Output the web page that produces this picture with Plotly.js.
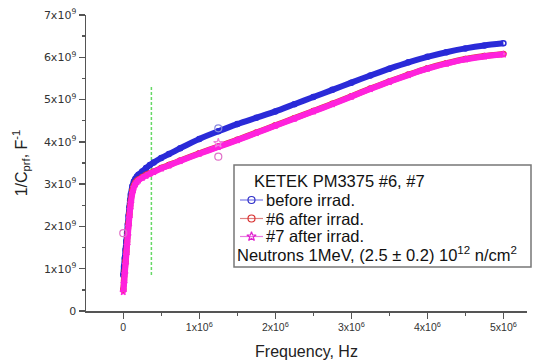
<!DOCTYPE html>
<html>
<head>
<meta charset="utf-8">
<script src="https://cdn.plot.ly/plotly-3.0.1.min.js"></script>
<style>html,body{margin:0;padding:0;background:#fff;}#chart{width:533px;height:361px;}</style>
</head>
<body>
<div id="chart"></div>
<script>
// Frequency (Hz) and 1/C (F^-1)
const freqBefore = [0, 1e4, 2e4, 3e4, 4e4, 5e4, 6e4, 7e4, 8e4, 9e4, 1e5, 1.2e5, 1.4e5, 1.6e5, 1.8e5, 2e5, 2.5e5, 3e5, 3.5e5, 4e5, 5e5, 6e5, 7.5e5, 1e6, 1.25e6, 1.5e6, 1.75e6, 2e6, 2.25e6, 2.5e6, 2.75e6, 3e6, 3.25e6, 3.5e6, 3.75e6, 4e6, 4.25e6, 4.5e6, 4.75e6, 5e6];
const invCBefore = [0.85e9, 1.05e9, 1.25e9, 1.45e9, 1.65e9, 1.85e9, 2.05e9, 2.25e9, 2.45e9, 2.62e9, 2.76e9, 2.95e9, 3.06e9, 3.13e9, 3.18e9, 3.22e9, 3.30e9, 3.38e9, 3.45e9, 3.51e9, 3.62e9, 3.71e9, 3.85e9, 4.07e9, 4.25e9, 4.42e9, 4.57e9, 4.72e9, 4.89e9, 5.06e9, 5.23e9, 5.40e9, 5.57e9, 5.73e9, 5.88e9, 6.01e9, 6.12e9, 6.21e9, 6.28e9, 6.33e9];

const freq6 = [0, 1e4, 2e4, 3e4, 4e4, 5e4, 6e4, 7e4, 8e4, 9e4, 1e5, 1.2e5, 1.4e5, 1.6e5, 1.8e5, 2e5, 2.5e5, 3e5, 3.5e5, 4e5, 5e5, 6e5, 7.5e5, 1e6, 1.25e6, 1.5e6, 1.75e6, 2e6, 2.25e6, 2.5e6, 2.75e6, 3e6, 3.25e6, 3.5e6, 3.75e6, 4e6, 4.25e6, 4.5e6, 4.75e6, 5e6];
const invC6 = [0.50e9, 0.72e9, 0.95e9, 1.18e9, 1.40e9, 1.63e9, 1.86e9, 2.08e9, 2.28e9, 2.47e9, 2.62e9, 2.85e9, 2.97e9, 3.04e9, 3.08e9, 3.11e9, 3.17e9, 3.22e9, 3.26e9, 3.30e9, 3.38e9, 3.45e9, 3.56e9, 3.73e9, 3.89e9, 4.05e9, 4.22e9, 4.39e9, 4.56e9, 4.73e9, 4.90e9, 5.08e9, 5.26e9, 5.43e9, 5.59e9, 5.74e9, 5.86e9, 5.96e9, 6.03e9, 6.08e9];

const freq7 = [0, 1e4, 2e4, 3e4, 4e4, 5e4, 6e4, 7e4, 8e4, 9e4, 1e5, 1.2e5, 1.4e5, 1.6e5, 1.8e5, 2e5, 2.5e5, 3e5, 3.5e5, 4e5, 5e5, 6e5, 7.5e5, 1e6, 1.25e6, 1.5e6, 1.75e6, 2e6, 2.25e6, 2.5e6, 2.75e6, 3e6, 3.25e6, 3.5e6, 3.75e6, 4e6, 4.25e6, 4.5e6, 4.75e6, 5e6];
const invC7 = [0.45e9, 0.65e9, 0.88e9, 1.10e9, 1.32e9, 1.55e9, 1.78e9, 2.00e9, 2.20e9, 2.40e9, 2.55e9, 2.78e9, 2.92e9, 3.00e9, 3.05e9, 3.09e9, 3.15e9, 3.20e9, 3.25e9, 3.29e9, 3.37e9, 3.44e9, 3.55e9, 3.72e9, 3.88e9, 4.04e9, 4.21e9, 4.38e9, 4.55e9, 4.72e9, 4.89e9, 5.07e9, 5.25e9, 5.42e9, 5.58e9, 5.73e9, 5.85e9, 5.95e9, 6.02e9, 6.07e9];

// isolated points
const outBeforeF = [1.25e6];
const outBeforeV = [4.32e9];
const out6F = [0, 1.25e6];
const out6V = [1.84e9, 3.65e9];
const out7F = [1.25e6];
const out7V = [3.97e9];

// vertical marker line
const markF = [3.7e5, 3.7e5];
const markV = [0.85e9, 5.3e9];

const xTickVals = [0, 1e6, 2e6, 3e6, 4e6, 5e6];
const xTickText = ['0', '1x10<sup>6</sup>', '2x10<sup>6</sup>', '3x10<sup>6</sup>', '4x10<sup>6</sup>', '5x10<sup>6</sup>'];
const yTickVals = [0, 1e9, 2e9, 3e9, 4e9, 5e9, 6e9, 7e9];
const yTickText = ['0', '1x10<sup>9</sup>', '2x10<sup>9</sup>', '3x10<sup>9</sup>', '4x10<sup>9</sup>', '5x10<sup>9</sup>', '6x10<sup>9</sup>', '7x10<sup>9</sup>'];

const legendTitle = 'KETEK PM3375 #6, #7';
const seriesNames = ['before irrad.', '#6 after irrad.', '#7 after irrad.'];
const legendNote = 'Neutrons 1MeV, (2.5 ± 0.2) 10<sup>12</sup> n/cm<sup>2</sup>';

const BLUE = '#2a2ad8', RED = '#e23a3a', PINK = '#ff22dd';
const FONT = 'Liberation Sans, Arial, sans-serif';

// plot-area geometry (px) used to place the hand-built legend
const W = 533, H = 361, ML = 86, MR = 6, MT = 15, MB = 50;
const PW = W - ML - MR, PH = H - MT - MB;
const px = v => (v - ML) / PW;
const py = v => (H - MB - v) / PH;

const keyLineColors = ['#7a7ae8', '#e08080', '#e878e0'];
const keyMarkerColors = ['#3030c8', '#d83030', '#e020d0'];
const keySymbols = ['circle-open', 'circle-open', 'star-open'];
const rowY = [200, 218.5, 236.5];

const traces = [
  {x: markF, y: markV, mode: 'lines', line: {color: '#66d866', width: 1.5, dash: '3px,2px'}, showlegend: false, hoverinfo: 'skip'},
  {x: freqBefore, y: invCBefore, mode: 'lines+markers', line: {color: BLUE, width: 6, shape: 'spline', smoothing: 0.6}, marker: {symbol: 'circle-open', size: 5, color: BLUE, line: {width: 1.5}}, showlegend: false},
  {x: freq6, y: invC6, mode: 'lines+markers', line: {color: RED, width: 6, shape: 'spline', smoothing: 0.6}, marker: {symbol: 'circle-open', size: 5, color: RED, line: {width: 1.5}}, showlegend: false},
  {x: freq7, y: invC7, mode: 'lines+markers', line: {color: PINK, width: 6, shape: 'spline', smoothing: 0.6}, marker: {symbol: 'star-open', size: 5, color: PINK, line: {width: 1.2}}, showlegend: false},
  {x: outBeforeF, y: outBeforeV, mode: 'markers', marker: {symbol: 'circle-open', size: 7, color: '#8a8ae0', line: {width: 1.2}}, showlegend: false},
  {x: out6F, y: out6V, mode: 'markers', marker: {symbol: 'circle-open', size: 7, color: '#e070c8', line: {width: 1.2}}, showlegend: false},
  {x: out7F, y: out7V, mode: 'markers', marker: {symbol: 'star-open', size: 7, color: '#f080e0', line: {width: 1.2}}, showlegend: false}
];

// legend keys on an invisible overlay axis spanning the paper
seriesNames.forEach((n, i) => {
  traces.push({x: [px(251.5)], y: [py(rowY[i])], xaxis: 'x2', yaxis: 'y2', mode: 'markers',
    marker: {symbol: keySymbols[i], size: 7, color: keyMarkerColors[i], line: {width: 1.2}},
    showlegend: false, hoverinfo: 'skip', cliponaxis: false});
});

const shapes = [
  {type: 'rect', xref: 'paper', yref: 'paper', x0: px(234), x1: px(531), y0: py(267), y1: py(165), line: {color: '#777', width: 1.5}, fillcolor: '#fff', layer: 'below'}
];
seriesNames.forEach((n, i) => {
  shapes.push({type: 'line', xref: 'paper', yref: 'paper', x0: px(240), x1: px(263), y0: py(rowY[i]), y1: py(rowY[i]), line: {color: keyLineColors[i], width: 1.2}, layer: 'below'});
});

const LFONT = {family: FONT, size: 16.5, color: '#111'};
const annotations = [
  {xref: 'paper', yref: 'paper', x: px(252), y: py(180.5), xanchor: 'left', yanchor: 'middle', showarrow: false, text: legendTitle, font: LFONT},
  {xref: 'paper', yref: 'paper', x: px(235), y: py(254), xanchor: 'left', yanchor: 'middle', showarrow: false, text: legendNote, font: LFONT}
];
seriesNames.forEach((n, i) => {
  annotations.push({xref: 'paper', yref: 'paper', x: px(264), y: py(rowY[i]), xanchor: 'left', yanchor: 'middle', showarrow: false, text: n, font: LFONT});
});

const axisCommon = {
  showgrid: false, zeroline: false, showline: true, linecolor: '#555', linewidth: 1.5,
  ticks: 'outside', ticklen: 6, tickwidth: 1.5, tickcolor: '#555', automargin: false, tickmode: 'array'
};

const layout = {
  width: W, height: H,
  margin: {l: ML, r: MR, t: MT, b: MB},
  paper_bgcolor: '#fff', plot_bgcolor: '#fff',
  font: {family: FONT, color: '#222'},
  showlegend: false,
  xaxis: Object.assign({}, axisCommon, {
    range: [-0.49e6, 5.31e6], tickvals: xTickVals, ticktext: xTickText,
    tickfont: {family: FONT, size: 10.5, color: '#333'},
    minor: {tickmode: 'linear', tick0: 0, dtick: 5e5, ticks: 'outside', ticklen: 3, tickwidth: 1.5, tickcolor: '#555'},
    title: {text: 'Frequency, Hz', font: {family: FONT, size: 16, color: '#222'}, standoff: 13}
  }),
  yaxis: Object.assign({}, axisCommon, {
    range: [0, 7e9], tickvals: yTickVals, ticktext: yTickText,
    tickfont: {family: 'DejaVu Sans, sans-serif', size: 11, color: '#333'},
    minor: {tickmode: 'linear', tick0: 0, dtick: 5e8, ticks: 'outside', ticklen: 3, tickwidth: 1.5, tickcolor: '#555'},
    title: {text: '1/C<sub>prf</sub>, F<sup>-1</sup>', font: {family: FONT, size: 16, color: '#222'}, standoff: 12}
  }),
  xaxis2: {overlaying: 'x', range: [0, 1], visible: false, fixedrange: true},
  yaxis2: {overlaying: 'y', range: [0, 1], visible: false, fixedrange: true},
  shapes: shapes,
  annotations: annotations
};

Plotly.newPlot('chart', traces, layout, {displayModeBar: false, staticPlot: true});
</script>
</body>
</html>
